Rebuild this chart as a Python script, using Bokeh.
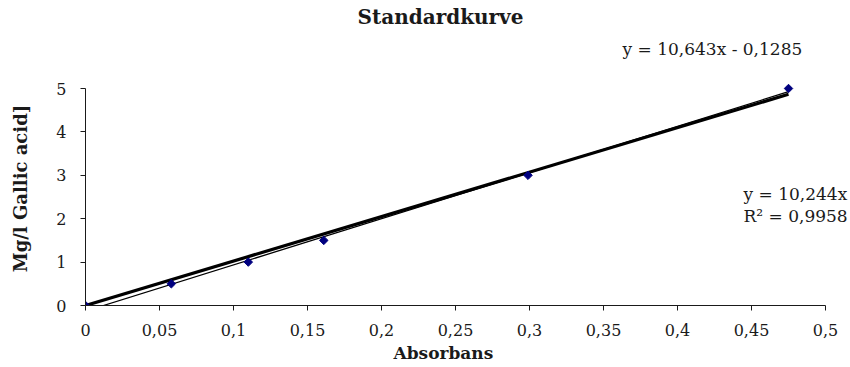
import math
from bokeh.plotting import figure
from bokeh.models import Range1d, Label, CustomJSTickFormatter, FixedTicker, Title
from bokeh.embed import file_html
from bokeh.resources import INLINE

absorbans = [0.0, 0.058, 0.11, 0.161, 0.299, 0.475]
mg_per_l = [0.0, 0.5, 1.0, 1.5, 3.0, 5.0]
fit_lin_slope, fit_lin_icpt = 10.643, -0.1285
fit_origin_slope = 10.244
x_ticks = [0, 0.05, 0.1, 0.15, 0.2, 0.25, 0.3, 0.35, 0.4, 0.45, 0.5]
y_ticks = [0, 1, 2, 3, 4, 5]
x_max, y_max = 0.5, 5

FONT = "DejaVu Serif"
W, H = 850, 367
L, B = 85, 305            # frame left / bottom in picture pixels
AX_R, AX_T = 825, 88      # where x=0.5 and y=5 fall
R, T = W, 71              # frame extends to the right canvas edge

x_end_range = x_max * (R - L) / (AX_R - L)
y_end_range = y_max * (B - T) / (B - AX_T)

p = figure(width=W, height=H, output_backend="svg", toolbar_location=None,
           x_range=Range1d(0, x_end_range), y_range=Range1d(0, y_end_range),
           min_border_left=L, min_border_right=W - R, min_border_top=T, min_border_bottom=H - B)
p.title.visible = False
p.outline_line_color = None
p.xgrid.visible = False
p.ygrid.visible = False

# trend lines
x_end = max(absorbans)
p.line([0, x_end], [0, fit_origin_slope * x_end], line_color="black", line_width=3.2)
x0 = -fit_lin_icpt / fit_lin_slope
p.line([x0, x_end], [0, fit_lin_slope * x_end + fit_lin_icpt], line_color="black", line_width=1.3)

p.scatter(absorbans, mg_per_l, marker="square", angle=math.pi / 4, size=6,
          fill_color="#00007f", line_color="#00007f")

fmt = CustomJSTickFormatter(code="return String(Math.round(tick*100)/100).replace('.', ',');")
for ax, ticks, bnds in ((p.xaxis[0], x_ticks, (0, x_max)), (p.yaxis[0], y_ticks, (0, y_max))):
    ax.ticker = FixedTicker(ticks=ticks)
    ax.bounds = bnds
    ax.formatter = fmt
    ax.minor_tick_line_color = None
    ax.major_tick_in = 0
    ax.major_tick_out = 5
    ax.axis_line_color = "#1a1a1a"
    ax.major_tick_line_color = "#1a1a1a"
    ax.major_label_text_font = FONT
    ax.major_label_text_font_size = "16px"
    ax.major_label_text_color = "#1a1a1a"
p.xaxis.major_label_standoff = 13
p.yaxis.major_label_standoff = 14

p.yaxis.axis_label = "Mg/l Gallic acid]"
p.yaxis.axis_label_standoff = 22
p.yaxis.axis_label_text_font = FONT
p.yaxis.axis_label_text_font_style = "bold"
p.yaxis.axis_label_text_font_size = "18px"
p.yaxis.axis_label_text_color = "#1a1a1a"

p.add_layout(Title(text="Absorbans", align="left", offset=393 - L, standoff=5,
                   text_font=FONT, text_font_style="bold", text_font_size="17px",
                   text_color="#1a1a1a"), "below")
# nearer the plot first, then the outer title
p.add_layout(Title(text="y = 10,643x - 0,1285", align="left", offset=622 - L, standoff=26,
                   text_font=FONT, text_font_style="normal", text_font_size="17px",
                   text_color="#1a1a1a"), "above")
p.add_layout(Title(text="Standardkurve", align="left", offset=357 - L, standoff=-11,
                   text_font=FONT, text_font_style="bold", text_font_size="20px",
                   text_color="#1a1a1a"), "above")


def lab(px, py, text, **kw):
    # screen units are relative to the frame's bottom-left corner
    opts = dict(text_font=FONT, text_font_size="17px", text_align="left", text_baseline="middle",
                text_color="#1a1a1a")
    opts.update(kw)
    p.add_layout(Label(x=px - L, y=B - py, x_units="screen", y_units="screen", text=text, **opts))


lab(743, 193, "y = 10,244x")
lab(743, 215, "R² = 0,9958")

open("out.html", "w").write(file_html(p, INLINE))
